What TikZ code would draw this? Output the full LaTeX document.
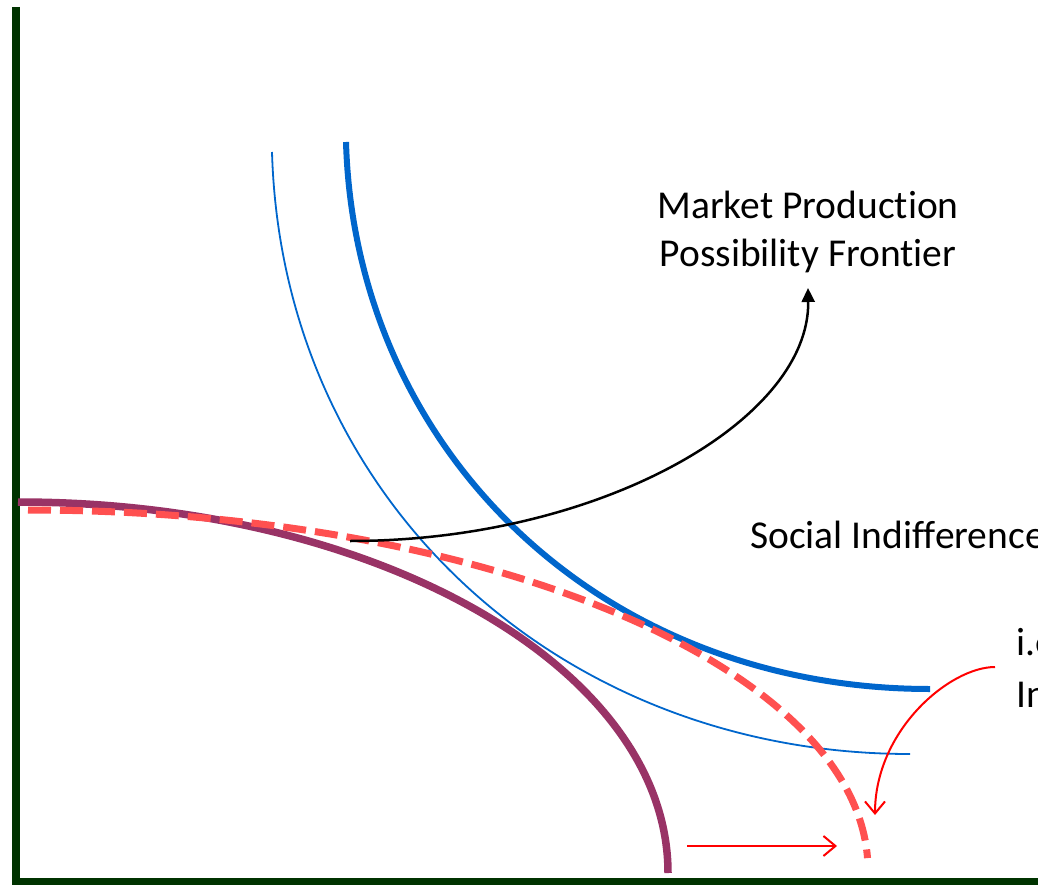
\documentclass[tikz,border=0pt]{standalone}
\usepackage{fontspec}
\setmainfont{Carlito}[Ligatures=NoCommon]
\usetikzlibrary{arrows.meta}
\definecolor{axisgreen}{HTML}{003300}
\definecolor{ppfblue}{HTML}{0066CC}
\definecolor{ppfpurple}{HTML}{993366}
\definecolor{dashred}{HTML}{FF5050}
\definecolor{arrowred}{HTML}{FF0000}
\tikzset{
  axisline/.style={draw=axisgreen, line width=8pt},
  thickblue/.style={draw=ppfblue, line width=6pt},
  thinblue/.style={draw=ppfblue, line width=1.8pt},
  purplecurve/.style={draw=ppfpurple, line width=7.5pt},
  reddash/.style={draw=dashred, line width=7pt, dash pattern=on 23pt off 9pt},
  blackarrow/.style={draw=black, line width=2.5pt, -{Triangle[length=14pt,width=13pt]}},
  redarrow/.style={draw=arrowred, line width=2pt, -{Straight Barb[length=12pt,width=20pt]}},
  label/.style={font=\fontsize{39.5}{48}\selectfont, inner sep=0pt, text=black},
}
\begin{document}
\begin{tikzpicture}[x=1pt,y=-1pt]
\useasboundingbox (0,0) rectangle (1038,885);
\clip (0,0) rectangle (1038,885);
% axes
\coordinate (ytop) at (16,7);
\coordinate (origin) at (16,882);
\coordinate (xend) at (1040,881.5);
\draw[axisline] (ytop) -- (origin);
\draw[axisline, line width=7pt] (12,881.5) -- (xend);
% thin blue curve
\coordinate (tbstart) at (272,152);
\coordinate (tbend) at (910,754);
\draw[thinblue] (tbstart) .. controls (282,500) and (560,754) .. (tbend);
% thick blue curve
\coordinate (kbstart) at (346,142);
\coordinate (kbend) at (930,689);
\draw[thickblue] (kbstart) .. controls (355,450) and (600,689) .. (kbend);
% purple curve
\coordinate (pstart) at (18,502);
\draw[purplecurve] (pstart) arc[start angle=90, end angle=0, x radius=650pt, y radius=371pt];
% red dashed curve
\coordinate (rstart) at (28,510);
\draw[reddash] (rstart) arc[start angle=90, end angle=1.9, x radius=840pt, y radius=360pt];
% labels
\node[label, align=center] (mpf) at (808,232) {Market Production\\Possibility Frontier};
\node[label, anchor=base west] (sic) at (750,548) {Social Indifference};
\node[label, anchor=base west] (ie) at (1016,655) {i.e.};
\node[label, anchor=base west] (in) at (1016,707) {In};
% black arrow
\coordinate (bstart) at (350,541);
\coordinate (bend) at (808,288);
\draw[blackarrow] (bstart) .. controls (600,541) and (810,420) .. (bend);
% red curved arrow
\coordinate (cstart) at (995,667);
\coordinate (cend) at (875,815);
\draw[redarrow] (cstart) .. controls (950,667) and (875,730) .. (cend);
% red horizontal arrow
\coordinate (hstart) at (687,846);
\coordinate (hend) at (837,846);
\draw[redarrow] (hstart) -- (hend);
\end{tikzpicture}
\end{document}
